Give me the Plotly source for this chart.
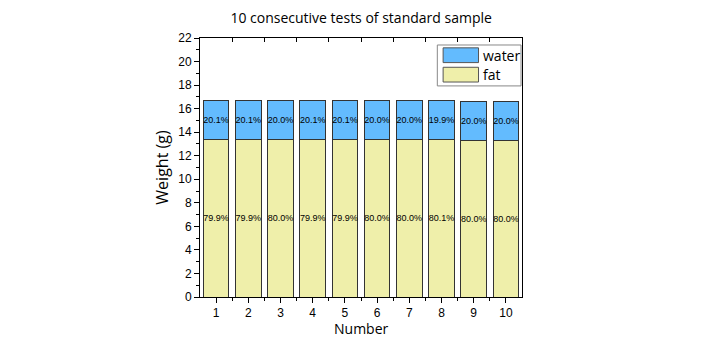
import plotly.graph_objects as go

numbers = [1, 2, 3, 4, 5, 6, 7, 8, 9, 10]
totals = [16.7, 16.7, 16.7, 16.7, 16.7, 16.7, 16.7, 16.7, 16.6, 16.6]
water_pct = [20.1, 20.1, 20.0, 20.1, 20.1, 20.0, 20.0, 19.9, 20.0, 20.0]
fat_pct = [79.9, 79.9, 80.0, 79.9, 79.9, 80.0, 80.0, 80.1, 80.0, 80.0]

fat = [t * p / 100 for t, p in zip(totals, fat_pct)]
water = [t * p / 100 for t, p in zip(totals, water_pct)]

WATER_C = "#63BBFE"
FAT_C = "#EFEFAA"
LINE_C = "#333333"

fig = go.Figure()
fig.add_trace(go.Bar(
    x=numbers, y=fat, name="fat", marker=dict(color=FAT_C, line=dict(color=LINE_C, width=1)),
    text=[f"{p:.1f}%" for p in fat_pct], textposition="inside", insidetextanchor="middle",
    textangle=0, constraintext="none",
    textfont=dict(family="Liberation Sans, Arial", size=9, color="black"),
    width=0.8, showlegend=False,
))
fig.add_trace(go.Bar(
    x=numbers, y=water, name="water", marker=dict(color=WATER_C, line=dict(color=LINE_C, width=1)),
    text=[f"{p:.1f}%" for p in water_pct], textposition="inside", insidetextanchor="middle",
    textangle=0, constraintext="none",
    textfont=dict(family="Liberation Sans, Arial", size=9, color="black"),
    width=0.8, showlegend=False,
))

# legend box drawn in paper coordinates
shapes = [
    dict(type="rect", xref="paper", yref="paper", x0=0.737, x1=0.997, y0=0.815, y1=0.973,
         line=dict(color="#888888", width=1), fillcolor="white"),
    dict(type="rect", xref="paper", yref="paper", x0=0.755, x1=0.865, y0=0.905, y1=0.962,
         line=dict(color="#555555", width=1), fillcolor=WATER_C),
    dict(type="rect", xref="paper", yref="paper", x0=0.755, x1=0.865, y0=0.830, y1=0.887,
         line=dict(color="#555555", width=1), fillcolor=FAT_C),
]
annotations = [
    dict(xref="paper", yref="paper", x=0.872, y=0.933, text="water", showarrow=False,
         xanchor="left", yanchor="middle", font=dict(family="Open Sans, Noto Sans", size=14, color="black")),
    dict(xref="paper", yref="paper", x=0.872, y=0.858, text="fat", showarrow=False,
         xanchor="left", yanchor="middle", font=dict(family="Open Sans, Noto Sans", size=14, color="black")),
    dict(xref="paper", yref="paper", x=0.5, y=-0.122, text="Number", showarrow=False,
         xanchor="center", yanchor="middle", font=dict(family="Open Sans, Noto Sans", size=14, color="black")),
]

fig.update_layout(
    width=704, height=352,
    margin=dict(l=200, r=182, t=38, b=55),
    barmode="stack",
    plot_bgcolor="white", paper_bgcolor="white",
    title=dict(text="10 consecutive tests of standard sample", x=0.513, xanchor="center",
               y=0.95, yanchor="middle", font=dict(family="Open Sans, Noto Sans", size=14, color="black")),
    shapes=shapes, annotations=annotations,
    xaxis=dict(
        range=[0.5, 10.5], tickvals=numbers, ticks="outside", ticklen=5, tickcolor="black",
        showline=True, linecolor="black", linewidth=1, mirror=True, showgrid=False, zeroline=False,
        tickfont=dict(family="Liberation Sans, Arial", size=12, color="black"),
        minor=dict(tickvals=[n + 0.5 for n in numbers[:-1]], ticks="outside", ticklen=3, tickcolor="black"),
    ),
    xaxis2=dict(
        overlaying="x", side="top", range=[0.5, 10.5], tickvals=[n + 0.5 for n in numbers[:-1]],
        ticks="inside", ticklen=4, tickcolor="black", showticklabels=False, showgrid=False,
        zeroline=False, showline=False,
    ),
    yaxis=dict(
        range=[0, 22], dtick=2, ticks="outside", ticklen=5, tickcolor="black",
        showline=True, linecolor="black", linewidth=1, mirror=True, showgrid=False, zeroline=False,
        tickfont=dict(family="Liberation Sans, Arial", size=12, color="black"),
        minor=dict(dtick=1, ticks="outside", ticklen=3, tickcolor="black"),
        title=dict(text="Weight (g)", standoff=5, font=dict(family="Open Sans, Noto Sans", size=16, color="black")),
    ),
)
fig.add_trace(go.Scatter(x=[None], y=[None], xaxis="x2", showlegend=False, hoverinfo="skip"))

fig.write_html("out.html")
